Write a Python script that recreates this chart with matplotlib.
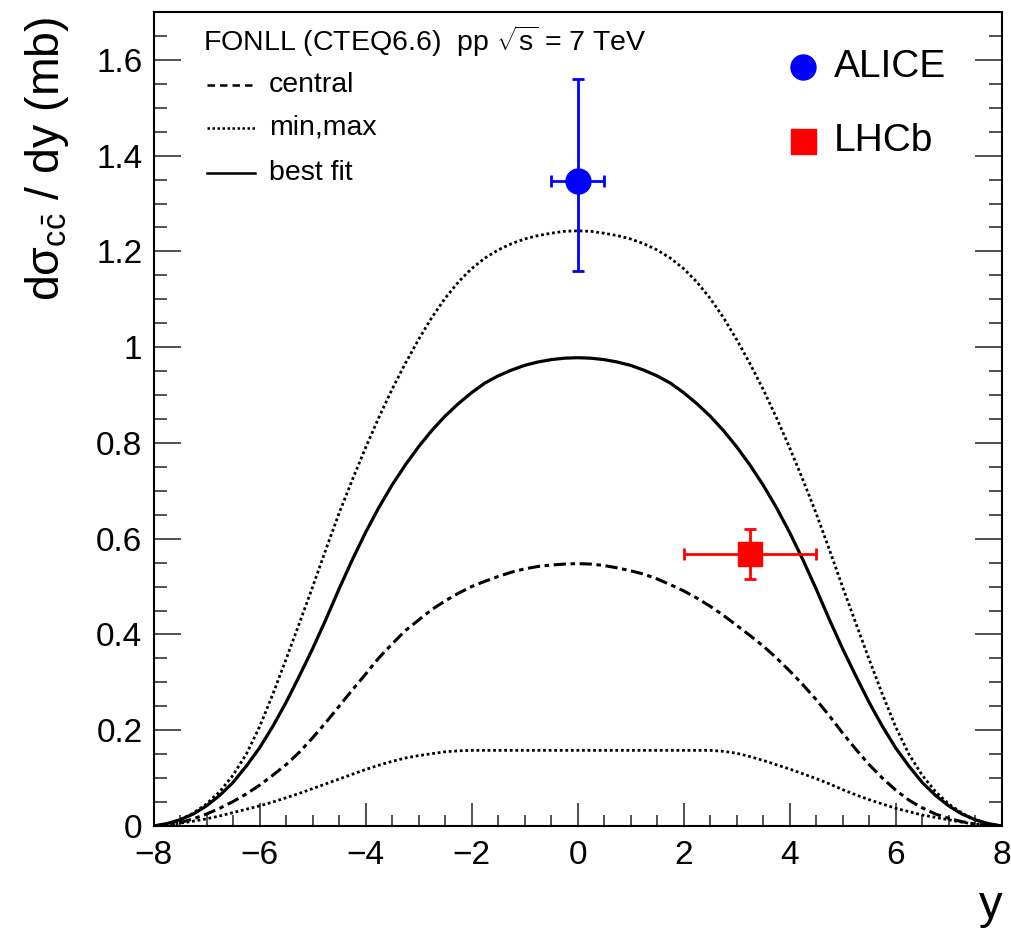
import matplotlib
matplotlib.use("Agg")
import matplotlib.pyplot as plt
from matplotlib.ticker import MultipleLocator

# ---------------- data ----------------
y_grid = [-8.0, -7.75, -7.5, -7.25, -7.0, -6.75, -6.5, -6.25, -6.0, -5.75,
          -5.5, -5.25, -5.0, -4.75, -4.5, -4.25, -4.0, -3.75, -3.5, -3.25,
          -3.0, -2.75, -2.5, -2.25, -2.0, -1.75, -1.5, -1.25, -1.0, -0.75,
          -0.5, -0.25, 0.0, 0.25, 0.5, 0.75, 1.0, 1.25, 1.5, 1.75, 2.0, 2.25,
          2.5, 2.75, 3.0, 3.25, 3.5, 3.75, 4.0, 4.25, 4.5, 4.75, 5.0, 5.25,
          5.5, 5.75, 6.0, 6.25, 6.5, 6.75, 7.0, 7.25, 7.5, 7.75, 8.0]

fonll_max = [0.000, 0.004, 0.013, 0.027, 0.046, 0.072, 0.106, 0.150, 0.207,
             0.275, 0.348, 0.423, 0.499, 0.577, 0.653, 0.723, 0.790, 0.853,
             0.912, 0.966, 1.016, 1.062, 1.102, 1.136, 1.164, 1.186, 1.203,
             1.216, 1.226, 1.233, 1.238, 1.242, 1.243, 1.242, 1.238, 1.233,
             1.226, 1.216, 1.203, 1.186, 1.164, 1.136, 1.102, 1.062, 1.016,
             0.966, 0.912, 0.853, 0.790, 0.723, 0.653, 0.577, 0.499, 0.423,
             0.348, 0.275, 0.207, 0.150, 0.106, 0.072, 0.046, 0.027, 0.013,
             0.004, 0.000]

fonll_best = [0.000, 0.005, 0.013, 0.025, 0.042, 0.064, 0.091, 0.125, 0.163,
              0.208, 0.258, 0.313, 0.370, 0.431, 0.495, 0.556, 0.613, 0.665,
              0.712, 0.754, 0.792, 0.826, 0.856, 0.882, 0.905, 0.925, 0.940,
              0.952, 0.962, 0.969, 0.974, 0.977, 0.978, 0.977, 0.974, 0.969,
              0.962, 0.952, 0.940, 0.925, 0.905, 0.882, 0.856, 0.826, 0.792,
              0.754, 0.712, 0.665, 0.613, 0.556, 0.495, 0.431, 0.370, 0.313,
              0.258, 0.208, 0.163, 0.125, 0.091, 0.064, 0.042, 0.025, 0.013,
              0.005, 0.000]

fonll_central = [0.000, 0.002, 0.007, 0.015, 0.025, 0.037, 0.051, 0.067,
                 0.085, 0.106, 0.128, 0.154, 0.184, 0.216, 0.250, 0.284,
                 0.317, 0.351, 0.380, 0.408, 0.430, 0.452, 0.470, 0.486,
                 0.500, 0.511, 0.521, 0.530, 0.537, 0.542, 0.545, 0.547,
                 0.548, 0.547, 0.544, 0.539, 0.533, 0.526, 0.516, 0.504,
                 0.491, 0.476, 0.459, 0.440, 0.419, 0.398, 0.376, 0.351,
                 0.324, 0.295, 0.264, 0.230, 0.194, 0.160, 0.128, 0.100,
                 0.075, 0.054, 0.038, 0.025, 0.016, 0.009, 0.004, 0.001, 0.000]

fonll_min = [0.000, 0.002, 0.006, 0.010, 0.015, 0.021, 0.028, 0.035, 0.042,
             0.050, 0.059, 0.068, 0.078, 0.088, 0.098, 0.108, 0.118, 0.127,
             0.135, 0.142, 0.147, 0.151, 0.155, 0.157, 0.158, 0.158, 0.158,
             0.158, 0.158, 0.158, 0.158, 0.158, 0.158, 0.158, 0.158, 0.158,
             0.158, 0.158, 0.158, 0.158, 0.158, 0.158, 0.158, 0.156, 0.152,
             0.145, 0.137, 0.128, 0.119, 0.109, 0.099, 0.088, 0.076, 0.065,
             0.055, 0.046, 0.037, 0.030, 0.023, 0.018, 0.013, 0.008, 0.004,
             0.001, 0.000]

alice_y = [0.0]
alice_val = [1.348]
alice_xerr = [0.5]
alice_yerr_lo = [0.188]
alice_yerr_hi = [0.212]

lhcb_y = [3.25]
lhcb_val = [0.568]
lhcb_xerr_lo = [1.25]
lhcb_xerr_hi = [1.25]
lhcb_yerr = [0.053]

x_ticks = [-8, -6, -4, -2, 0, 2, 4, 6, 8]
x_ticklabels = ["\u22128", "\u22126", "\u22124", "\u22122", "0", "2", "4", "6", "8"]
y_ticks = [0, 0.2, 0.4, 0.6, 0.8, 1.0, 1.2, 1.4, 1.6]
y_ticklabels = ["0", "0.2", "0.4", "0.6", "0.8", "1", "1.2", "1.4", "1.6"]

# ---------------- style ----------------
FONT = ["Liberation Sans", "DejaVu Sans"]
plt.rcParams["font.family"] = FONT
plt.rcParams["mathtext.fontset"] = "custom"
plt.rcParams["mathtext.rm"] = "Liberation Sans"
plt.rcParams["mathtext.it"] = "Liberation Sans"
plt.rcParams["mathtext.sf"] = "Liberation Sans"

W, H = 1011, 932
AX_L, AX_R, AX_T, AX_B = 153.5, 1001.7, 12.0, 826.0
AW, AH = AX_R - AX_L, AX_B - AX_T
fig = plt.figure(figsize=(W / 100, H / 100), dpi=100)
ax = fig.add_axes([AX_L / W, (H - AX_B) / H, AW / W, AH / H])

ax.set_xlim(-8, 8)
ax.set_ylim(0, 1.7)

# curves
ax.plot(y_grid, fonll_max, color="black", lw=2.0, ls=(0, (1, 1)))
ax.plot(y_grid, fonll_min, color="black", lw=2.0, ls=(0, (1, 1)))
ax.plot(y_grid, fonll_central, color="black", lw=2.2, ls=(0, (4, 1.5, 1.5, 1.5)))
ax.plot(y_grid, fonll_best, color="black", lw=2.3, ls="-")

# data points
ax.errorbar(alice_y, alice_val, xerr=[alice_xerr, alice_xerr],
            yerr=[alice_yerr_lo, alice_yerr_hi], fmt="o", color="#0000ff",
            ms=18, elinewidth=2.0, capsize=4, capthick=2.0, zorder=5)
ax.errorbar(lhcb_y, lhcb_val, xerr=[lhcb_xerr_lo, lhcb_xerr_hi],
            yerr=[lhcb_yerr, lhcb_yerr], fmt="s", color="#ff0000",
            ms=17.5, elinewidth=2.0, capsize=4, capthick=2.0, zorder=5)

# axes / ticks
ax.set_xticks(x_ticks)
ax.set_xticklabels(x_ticklabels)
ax.set_yticks(y_ticks)
ax.set_yticklabels(y_ticklabels)
ax.xaxis.set_minor_locator(MultipleLocator(0.5))
ax.yaxis.set_minor_locator(MultipleLocator(0.05))
ax.tick_params(axis="both", which="both", direction="in", top=False, right=True,
               width=1.2, colors="#333333", labelcolor="black", labelsize=24)
ax.tick_params(axis="x", which="major", length=16.5, pad=10)
ax.tick_params(axis="x", which="minor", length=8)
ax.tick_params(axis="y", which="major", length=19.5, pad=8)
ax.tick_params(axis="y", which="minor", length=9.5)
for s in ax.spines.values():
    s.set_linewidth(1.5)

# axis titles
fig.text(47 / W, 1 - 17 / H,
         r"d$\mathrm{\sigma}_{\mathrm{c\bar{c}}}$ / dy (mb)",
         rotation=90, ha="center", va="top", fontsize=33.5)
fig.text(1003 / W, 1 - 918 / H, "y", ha="right", va="baseline", fontsize=34)

# FONLL legend (upper left)
ax.text((203 - AX_L) / AW, (AX_B - 41) / AH,
        r"FONLL (CTEQ6.6)  pp $\sqrt{\mathrm{s}}$ = 7 TeV",
        transform=ax.transAxes, ha="left", va="center", fontsize=20.5)
leg_rows = [("central", (0, (3, 2)), 85), ("min,max", (0, (1, 1)), 128),
            ("best fit", "-", 173)]
for lab, ls, py in leg_rows:
    yy = (AX_B - py) / AH
    ax.plot([(207 - AX_L) / AW, (255 - AX_L) / AW], [yy, yy],
            transform=ax.transAxes, color="black", lw=1.8, ls=ls)
    ax.text((269 - AX_L) / AW, yy, lab, transform=ax.transAxes,
            ha="left", va="center", fontsize=20.5)

# ALICE / LHCb legend (upper right)
for lab, mk, col, py in [("ALICE", "o", "#0000ff", 67), ("LHCb", "s", "#ff0000", 141)]:
    yy = (AX_B - py) / AH
    ax.plot([(803 - AX_L) / AW], [yy], marker=mk, color=col, ms=18,
            transform=ax.transAxes, ls="none")
    ax.text((834 - AX_L) / AW, yy, lab, transform=ax.transAxes,
            ha="left", va="center", fontsize=28)

fig.savefig("out.png", dpi=100)
